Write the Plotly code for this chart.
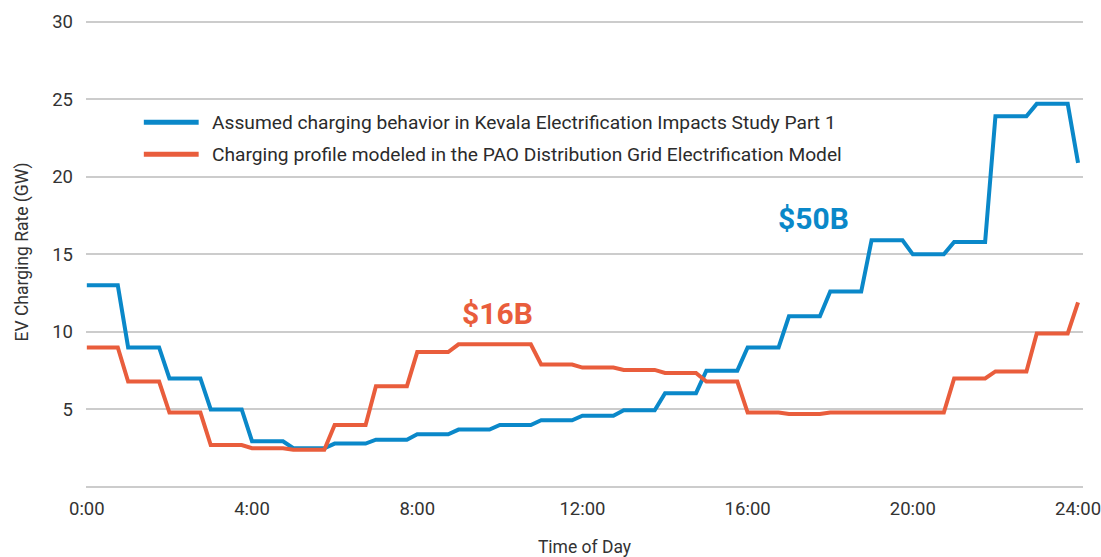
import plotly.graph_objects as go

# Hourly EV charging rate (GW), hour 0..24 (last value is the 24:00 endpoint)
hours = list(range(25))
kevala = [13.0, 9.0, 7.0, 5.0, 2.95, 2.5, 2.8, 3.05, 3.4, 3.7, 4.0, 4.3,
          4.6, 4.95, 6.05, 7.5, 9.0, 11.0, 12.6, 15.9, 15.0, 15.8, 23.9, 24.7,
          20.9]
pao = [9.0, 6.8, 4.8, 2.7, 2.5, 2.4, 4.0, 6.5, 8.7, 9.2, 9.2, 7.9,
       7.7, 7.55, 7.35, 6.8, 4.8, 4.7, 4.8, 4.8, 4.8, 7.0, 7.45, 9.9,
       11.9]

kevala_name = "Assumed charging behavior in Kevala Electrification Impacts Study Part 1"
pao_name = "Charging profile modeled in the PAO Distribution Grid Electrification Model"

tick_vals = [0, 4, 8, 12, 16, 20, 24]
tick_text = ["0:00", "4:00", "8:00", "12:00", "16:00", "20:00", "24:00"]

blue = "#0a88c9"
orange = "#e95d3c"
grid = "#cccccc"
font = "Roboto"


# each hourly value is held over the four 15-minute intervals of that hour
def quarter_hours(vals):
    xs, ys = [], []
    for h in hours[:-1]:
        for q in range(4):
            xs.append(h + q * 0.25)
            ys.append(vals[h])
    xs.append(hours[-1])
    ys.append(vals[-1])
    return xs, ys


fig = go.Figure()
for name, vals, col in [(kevala_name, kevala, blue), (pao_name, pao, orange)]:
    xs, ys = quarter_hours(vals)
    fig.add_trace(go.Scatter(x=xs, y=ys, mode="lines", name=name,
                             line=dict(color=col, width=4), showlegend=False))

# legend drawn by hand so the sample lines are as long as in the original
for i, (name, col) in enumerate([(kevala_name, blue), (pao_name, orange)]):
    yy = 0.776 - i * 0.068
    fig.add_shape(type="line", xref="paper", yref="paper",
                  x0=0.058, x1=0.113, y0=yy, y1=yy,
                  line=dict(color=col, width=5))
    fig.add_annotation(xref="paper", yref="paper", x=0.124, y=yy, text=name,
                       showarrow=False, xanchor="left", yanchor="middle",
                       font=dict(family=font, size=19.2, color="#2b2b2b"))

fig.add_annotation(x=17.6, y=17.3, text="<b>$50B</b>", showarrow=False,
                   font=dict(family=font, size=30, color=blue))
fig.add_annotation(x=9.95, y=11.2, text="<b>$16B</b>", showarrow=False,
                   font=dict(family=font, size=30, color=orange))

fig.update_layout(
    width=1101, height=557,
    margin=dict(l=86, r=18, t=17, b=70),
    plot_bgcolor="white", paper_bgcolor="white",
    font=dict(family=font, size=18.5, color="#333333"),
)
fig.update_xaxes(range=[-0.02, 24.12], tickvals=tick_vals, ticktext=tick_text,
                 showgrid=False, zeroline=False, showline=False,
                 automargin=False, ticklabelstandoff=8,
                 ticklabeloverflow="allow",
                 title=dict(text="Time of Day", standoff=22,
                            font=dict(family=font, size=17.5)))
fig.update_yaxes(range=[0, 30.3], tickvals=[5, 10, 15, 20, 25, 30],
                 showgrid=True, gridcolor=grid, gridwidth=1.5,
                 zeroline=True, zerolinecolor=grid, zerolinewidth=1.5,
                 showline=False, automargin=False, ticklabelstandoff=12,
                 title=dict(text="EV Charging Rate (GW)", standoff=19,
                            font=dict(family=font, size=17.5)))

# drop the page's default body margin so the chart sits at the window origin
fig.write_html("out.html", config={"displayModeBar": False},
               post_script="document.body.style.margin='0';")
